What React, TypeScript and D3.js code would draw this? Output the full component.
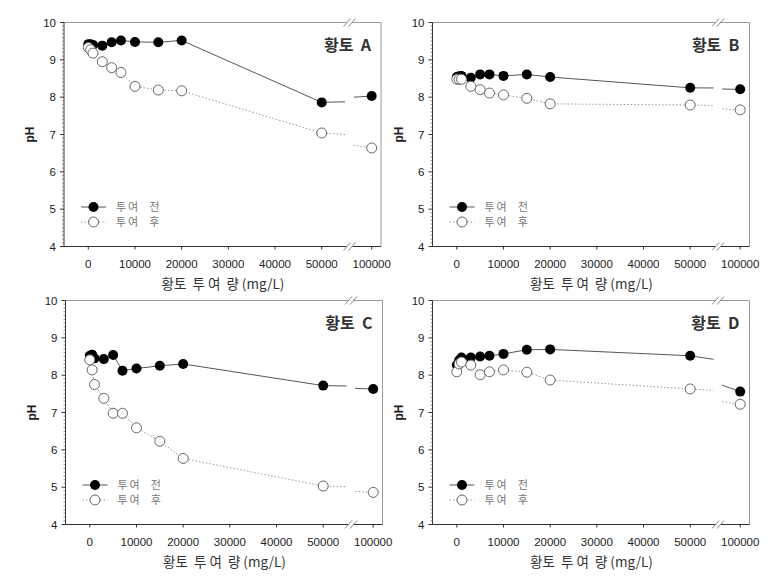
import React from "react";
import * as d3 from "d3";

const doses = [0, 500, 1000, 3000, 5000, 7000, 10000, 15000, 20000, 50000, 100000];
const xTicks = [0, 10000, 20000, 30000, 40000, 50000, 100000];
const yTicks = [4, 5, 6, 7, 8, 9, 10];

const beforeA = [9.42, 9.42, 9.4, 9.38, 9.47, 9.52, 9.48, 9.47, 9.52, 7.86, 8.03];
const afterA = [9.33, 9.27, 9.18, 8.95, 8.79, 8.66, 8.29, 8.19, 8.17, 7.04, 6.64];
const beforeB = [8.54, 8.56, 8.57, 8.52, 8.61, 8.61, 8.57, 8.61, 8.54, 8.25, 8.21];
const afterB = [8.48, 8.48, 8.48, 8.29, 8.2, 8.11, 8.06, 7.97, 7.82, 7.79, 7.66];
const beforeC = [8.52, 8.55, 8.45, 8.43, 8.54, 8.12, 8.18, 8.25, 8.3, 7.72, 7.63];
const afterC = [8.41, 8.14, 7.75, 7.38, 6.98, 6.98, 6.59, 6.23, 5.77, 5.03, 4.86];
const beforeD = [8.27, 8.4, 8.47, 8.47, 8.5, 8.52, 8.57, 8.68, 8.69, 8.52, 7.56];
const afterD = [8.09, 8.3, 8.35, 8.27, 8.01, 8.09, 8.14, 8.08, 7.87, 7.63, 7.22];

const panelNames = ["황토  A", "황토  B", "황토  C", "황토  D"];
const legendLabels = ["투여  전", "투여  후"];
const xTitle = "황토  투 여  량 (mg/L)";
const yTitle = "pH";

const panels = [
  { name: panelNames[0], before: beforeA, after: afterA, left: 64, top: 22.5 },
  { name: panelNames[1], before: beforeB, after: afterB, left: 432.5, top: 22.5 },
  { name: panelNames[2], before: beforeC, after: afterC, left: 65.5, top: 300.5 },
  { name: panelNames[3], before: beforeD, after: afterD, left: 432.5, top: 300.5 },
];

const W = 317;
const H = 224;
const BREAK_LO = 55000;
const BREAK_HI = 91000;
const FONT = "'Liberation Sans', Arial, 'Noto Sans CJK KR', sans-serif";
const KFONT = "'Noto Sans CJK KR', 'Liberation Sans', sans-serif";
const pre = { whiteSpace: "pre" as const };

function Panel({ p }: { p: any }) {
  const L = p.left;
  const T = p.top;
  const R = L + W;
  const B = T + H;
  const zero = L + 24.3;
  const xPre = d3.scaleLinear().domain([0, 50000]).range([zero, zero + 233.4]);
  const xPost = d3.scaleLinear().domain([91000, 100000]).range([zero + 283.4 - 18, zero + 283.4]);
  const x = (d: number) => (d <= BREAK_LO ? xPre(d) : xPost(d));
  const y = d3.scaleLinear().domain([4, 10]).range([B, T]);
  const bx = L + 285.5;

  const line = d3
    .line<[number, number]>()
    .x((d) => x(d[0]))
    .y((d) => y(d[1]));

  const segments = (vals: number[]) => {
    const a: [number, number][] = [];
    const b: [number, number][] = [];
    for (let i = 0; i < doses.length; i++) {
      const d = doses[i];
      if (d <= BREAK_LO) a.push([d, vals[i]]);
      else b.push([d, vals[i]]);
      if (i < doses.length - 1 && d <= BREAK_LO && doses[i + 1] > BREAK_LO) {
        const d1 = doses[i + 1];
        const interp = d3.interpolateNumber(vals[i], vals[i + 1]);
        a.push([BREAK_LO, interp((BREAK_LO - d) / (d1 - d))]);
        b.push([BREAK_HI, interp((BREAK_HI - d) / (d1 - d))]);
      }
    }
    b.sort((m, n) => m[0] - n[0]);
    return [line(a), line(b)];
  };

  const minor = d3.range(40, 101).map((v) => v / 10).filter((v) => Math.abs(v - Math.round(v)) > 1e-6);
  const axisCol = "#333";
  const frameCol = "#999";

  const slash = (yy: number) => (
    <g>
      <rect x={bx - 3} y={yy - 2} width={6} height={4} fill="#fff" />
      <line x1={bx - 6} y1={yy + 4} x2={bx + 1} y2={yy - 4} stroke="#888" strokeWidth={1} />
      <line x1={bx - 1} y1={yy + 4} x2={bx + 6} y2={yy - 4} stroke="#888" strokeWidth={1} />
    </g>
  );

  const [bPre, bPost] = segments(p.before);
  const [aPre, aPost] = segments(p.after);

  return (
    <g>
      <line x1={L} y1={T} x2={R} y2={T} stroke={frameCol} strokeWidth={1} />
      <line x1={R} y1={T} x2={R} y2={B} stroke={frameCol} strokeWidth={1} />
      <line x1={L} y1={T} x2={L} y2={B} stroke={axisCol} strokeWidth={1} />
      <line x1={L} y1={B} x2={R} y2={B} stroke={axisCol} strokeWidth={1} />
      {slash(T)}
      {slash(B)}
      {yTicks.map((t) => (
        <g key={"y" + t}>
          <line x1={L - 4} x2={L} y1={y(t)} y2={y(t)} stroke={axisCol} />
          <text x={L - 8} y={y(t) + 4} textAnchor="end" fontSize={11.5} fontFamily={FONT} fill="#222">
            {t}
          </text>
        </g>
      ))}
      {minor.map((t) => (
        <line key={"m" + t} x1={L - 2} x2={L} y1={y(t)} y2={y(t)} stroke="#777" strokeWidth={0.8} />
      ))}
      {xTicks.map((t) => (
        <g key={"x" + t}>
          <line x1={x(t)} x2={x(t)} y1={B} y2={B + 3} stroke={axisCol} />
          <text x={x(t)} y={B + 21} textAnchor="middle" fontSize={11.5} fontFamily={FONT} fill="#222">
            {t}
          </text>
        </g>
      ))}
      <text x={L - 30} y={T + H / 2} transform={`rotate(-90 ${L - 30} ${T + H / 2})`} textAnchor="middle" fontSize={12} fontWeight="bold" fontFamily={FONT} fill="#222">
        {yTitle}
      </text>
      <text x={L + 159} y={B + 42} textAnchor="middle" fontSize={13.5} fontFamily={KFONT} fill="#333" style={pre}>
        {xTitle}
      </text>
      <text x={L + 307} y={T + 28} textAnchor="end" fontSize={16} fontWeight="bold" fontFamily={KFONT} fill="#333" style={pre}>
        {p.name}
      </text>
      <path d={bPre || ""} fill="none" stroke="#555" strokeWidth={1} />
      <path d={bPost || ""} fill="none" stroke="#555" strokeWidth={1} />
      <path d={aPre || ""} fill="none" stroke="#999" strokeWidth={1} strokeDasharray="1.5 2" />
      <path d={aPost || ""} fill="none" stroke="#999" strokeWidth={1} strokeDasharray="1.5 2" />
      {doses.map((d, i) => (
        <circle key={"b" + i} cx={x(d)} cy={y(p.before[i])} r={5} fill="#000" />
      ))}
      {doses.map((d, i) => (
        <circle key={"a" + i} cx={x(d)} cy={y(p.after[i])} r={5} fill="#fff" stroke="#666" strokeWidth={1} />
      ))}
      <g>
        <line x1={L + 17} x2={L + 42} y1={T + 184.5} y2={T + 184.5} stroke="#555" />
        <circle cx={L + 29.5} cy={T + 184.5} r={5} fill="#000" />
        <text x={L + 52} y={T + 188.5} fontSize={11} letterSpacing={2} fontFamily={KFONT} fill="#777" style={pre}>
          {legendLabels[0]}
        </text>
        <line x1={L + 17} x2={L + 42} y1={T + 199.5} y2={T + 199.5} stroke="#999" strokeDasharray="1.5 2" />
        <circle cx={L + 29.5} cy={T + 199.5} r={5} fill="#fff" stroke="#666" />
        <text x={L + 52} y={T + 203.5} fontSize={11} letterSpacing={2} fontFamily={KFONT} fill="#777" style={pre}>
          {legendLabels[1]}
        </text>
      </g>
    </g>
  );
}

export default function App() {
  return (
    <div style={{ position: "absolute", left: 0, top: 0 }}>
      <svg width={768} height={580} style={{ display: "block", background: "#fff" }}>
        {panels.map((p, i) => (
          <Panel key={i} p={p} />
        ))}
      </svg>
    </div>
  );
}
